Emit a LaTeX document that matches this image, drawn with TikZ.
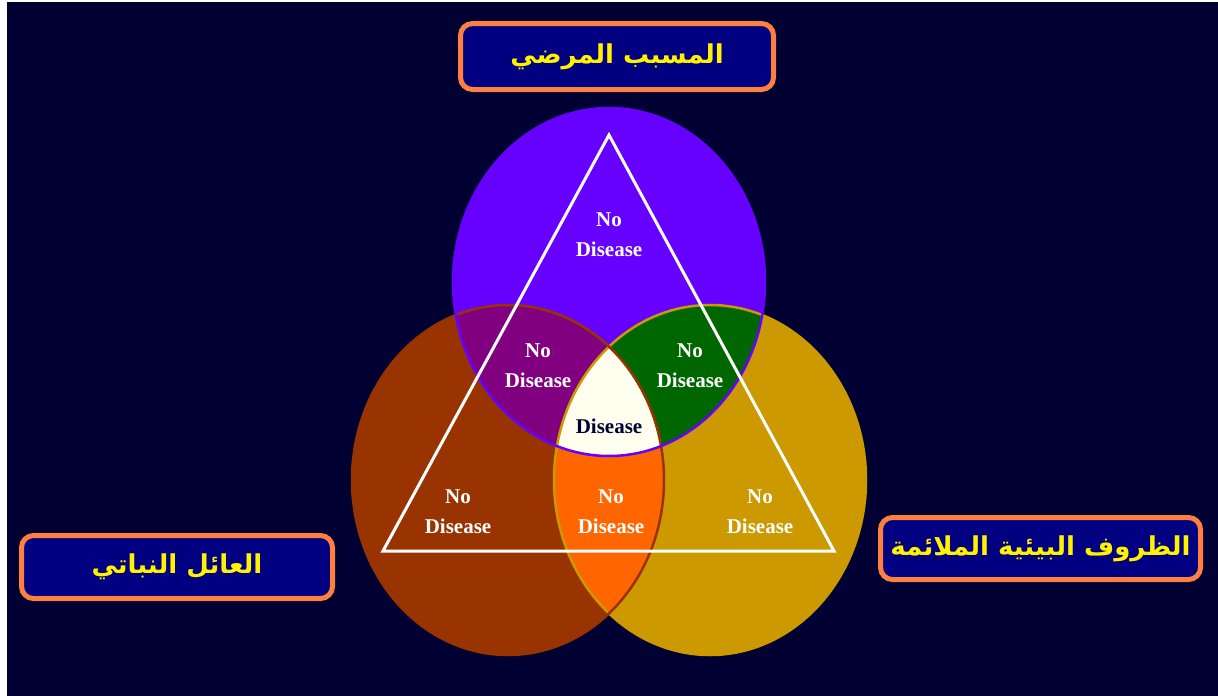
\documentclass[tikz,border=0pt]{standalone}
\usepackage{fontspec}
\setmainfont{Liberation Serif}
\newfontfamily\arabicfont[Script=Arabic]{DejaVu Sans}
\TeXXeTstate=1
\usetikzlibrary{positioning}

\definecolor{nightblue}{HTML}{000033}
\definecolor{boxblue}{HTML}{000080}
\definecolor{boxorange}{HTML}{FF7F40}
\definecolor{pathogencol}{HTML}{6600FF}
\definecolor{hostcol}{HTML}{993300}
\definecolor{envcol}{HTML}{CC9900}
\definecolor{phcol}{HTML}{800080}
\definecolor{pecol}{HTML}{006600}
\definecolor{hecol}{HTML}{FF6600}
\definecolor{diseasecol}{HTML}{FFFFF0}

\begin{document}
\begin{tikzpicture}[
x=1pt, y=-1pt,
labelbox/.style={draw=boxorange, line width=5pt, fill=boxblue, rounded corners=12pt, text=yellow, font=\arabicfont\bfseries\fontsize{26}{30}\selectfont},
nodis/.style={align=center, text=white, font=\bfseries\fontsize{21}{30}\selectfont},
edge/.style={draw=white, line width=3pt}
]

\useasboundingbox (0,0) rectangle (1218,696);
\fill[nightblue] (7,2) rectangle (1218,696);

% the three circles
\fill[pathogencol] (609,282) ellipse [x radius=156pt, y radius=174pt];
\fill[hostcol] (508,480) ellipse [x radius=156pt, y radius=175pt];
\fill[envcol] (710,480) ellipse [x radius=156pt, y radius=175pt];

% overlaps
\begin{scope}
\clip (609,282) ellipse [x radius=156pt, y radius=174pt];
\fill[phcol] (508,480) ellipse [x radius=156pt, y radius=175pt];
\fill[pecol] (710,480) ellipse [x radius=156pt, y radius=175pt];
\end{scope}
\begin{scope}
\clip (508,480) ellipse [x radius=156pt, y radius=175pt];
\fill[hecol] (710,480) ellipse [x radius=156pt, y radius=175pt];
\clip (710,480) ellipse [x radius=156pt, y radius=175pt];
\fill[diseasecol] (609,282) ellipse [x radius=156pt, y radius=174pt];
\end{scope}

\draw[envcol, line width=2.5pt] (710,480) ellipse [x radius=156pt, y radius=175pt];
\draw[hostcol, line width=2.5pt] (508,480) ellipse [x radius=156pt, y radius=175pt];
\draw[pathogencol, line width=2.5pt] (609,282) ellipse [x radius=156pt, y radius=174pt];

% triangle
\coordinate (apex) at (609,135);
\coordinate (baseleft) at (383,551);
\coordinate (baseright) at (834,551);
\draw[edge, line join=miter] (apex) -- (baseleft) -- (baseright) -- cycle;

% labels
\node[nodis] (pathonly) at (609,235) {No\\Disease};
\node[nodis] (pathhost) at (538,366) {No\\Disease};
\node[nodis] (pathenv) at (690,366) {No\\Disease};
\node[nodis, text=nightblue] (disease) at (609,426) {Disease};
\node[nodis] (hostonly) at (458,512) {No\\Disease};
\node[nodis] (hostenv) at (611,512) {No\\Disease};
\node[nodis] (envonly) at (760,512) {No\\Disease};

\node[labelbox, minimum width=313pt, minimum height=66pt] (pathogen) at (617,56.5) {\beginR المسبب المرضي\endR};
\node[labelbox, minimum width=311pt, minimum height=63pt] (host) at (177,567) {\beginR العائل النباتي\endR};
\node[labelbox, minimum width=320pt, minimum height=62pt] (environment) at (1040.5,548.5) {\beginR الظروف البيئية الملائمة\endR};

\end{tikzpicture}
\end{document}
